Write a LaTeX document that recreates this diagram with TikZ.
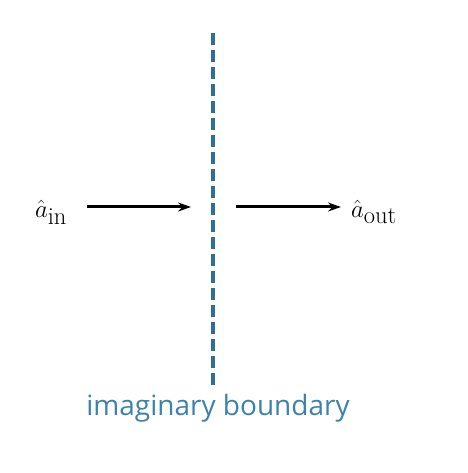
\documentclass[tikz,border=0pt]{standalone}
\usepackage{fontspec}
\setsansfont{Open Sans}
\usepackage{tikz}
\usetikzlibrary{arrows.meta,positioning}
\definecolor{bndline}{HTML}{2F6F94}
\definecolor{bndtext}{HTML}{3B83AC}

\begin{document}
\begin{tikzpicture}[x=1pt,y=1pt,>={Stealth[length=13pt,width=9pt]},
 field/.style={inner sep=0pt,font=\fontsize{35}{38}\selectfont},
 flow/.style={->,line width=3pt},
 boundary/.style={draw=bndline,line width=4.5pt,dash pattern=on 12pt off 5pt}]
\useasboundingbox (0,0) rectangle (467,473);
\node[field] (ain) at (51,261) {$\hat{a}_{\mathrm{in}}$};
\node[field] (aout) at (374,261) {$\hat{a}_{\mathrm{out}}$};
\coordinate (top) at (213,440);
\coordinate (bot) at (213,88);
\coordinate (inL) at (87,266);
\coordinate (hitL) at (191,266);
\coordinate (hitR) at (236,266);
\coordinate (outR) at (341,266);
\draw[boundary] (top) -- (bot);
\draw[flow] (inL) -- (hitL);
\draw[flow] (hitR) -- (outR);
\node[font=\sffamily\fontsize{28}{32}\selectfont,text=bndtext] (lbl) at (218,65) {imaginary boundary};
\end{tikzpicture}
\end{document}
